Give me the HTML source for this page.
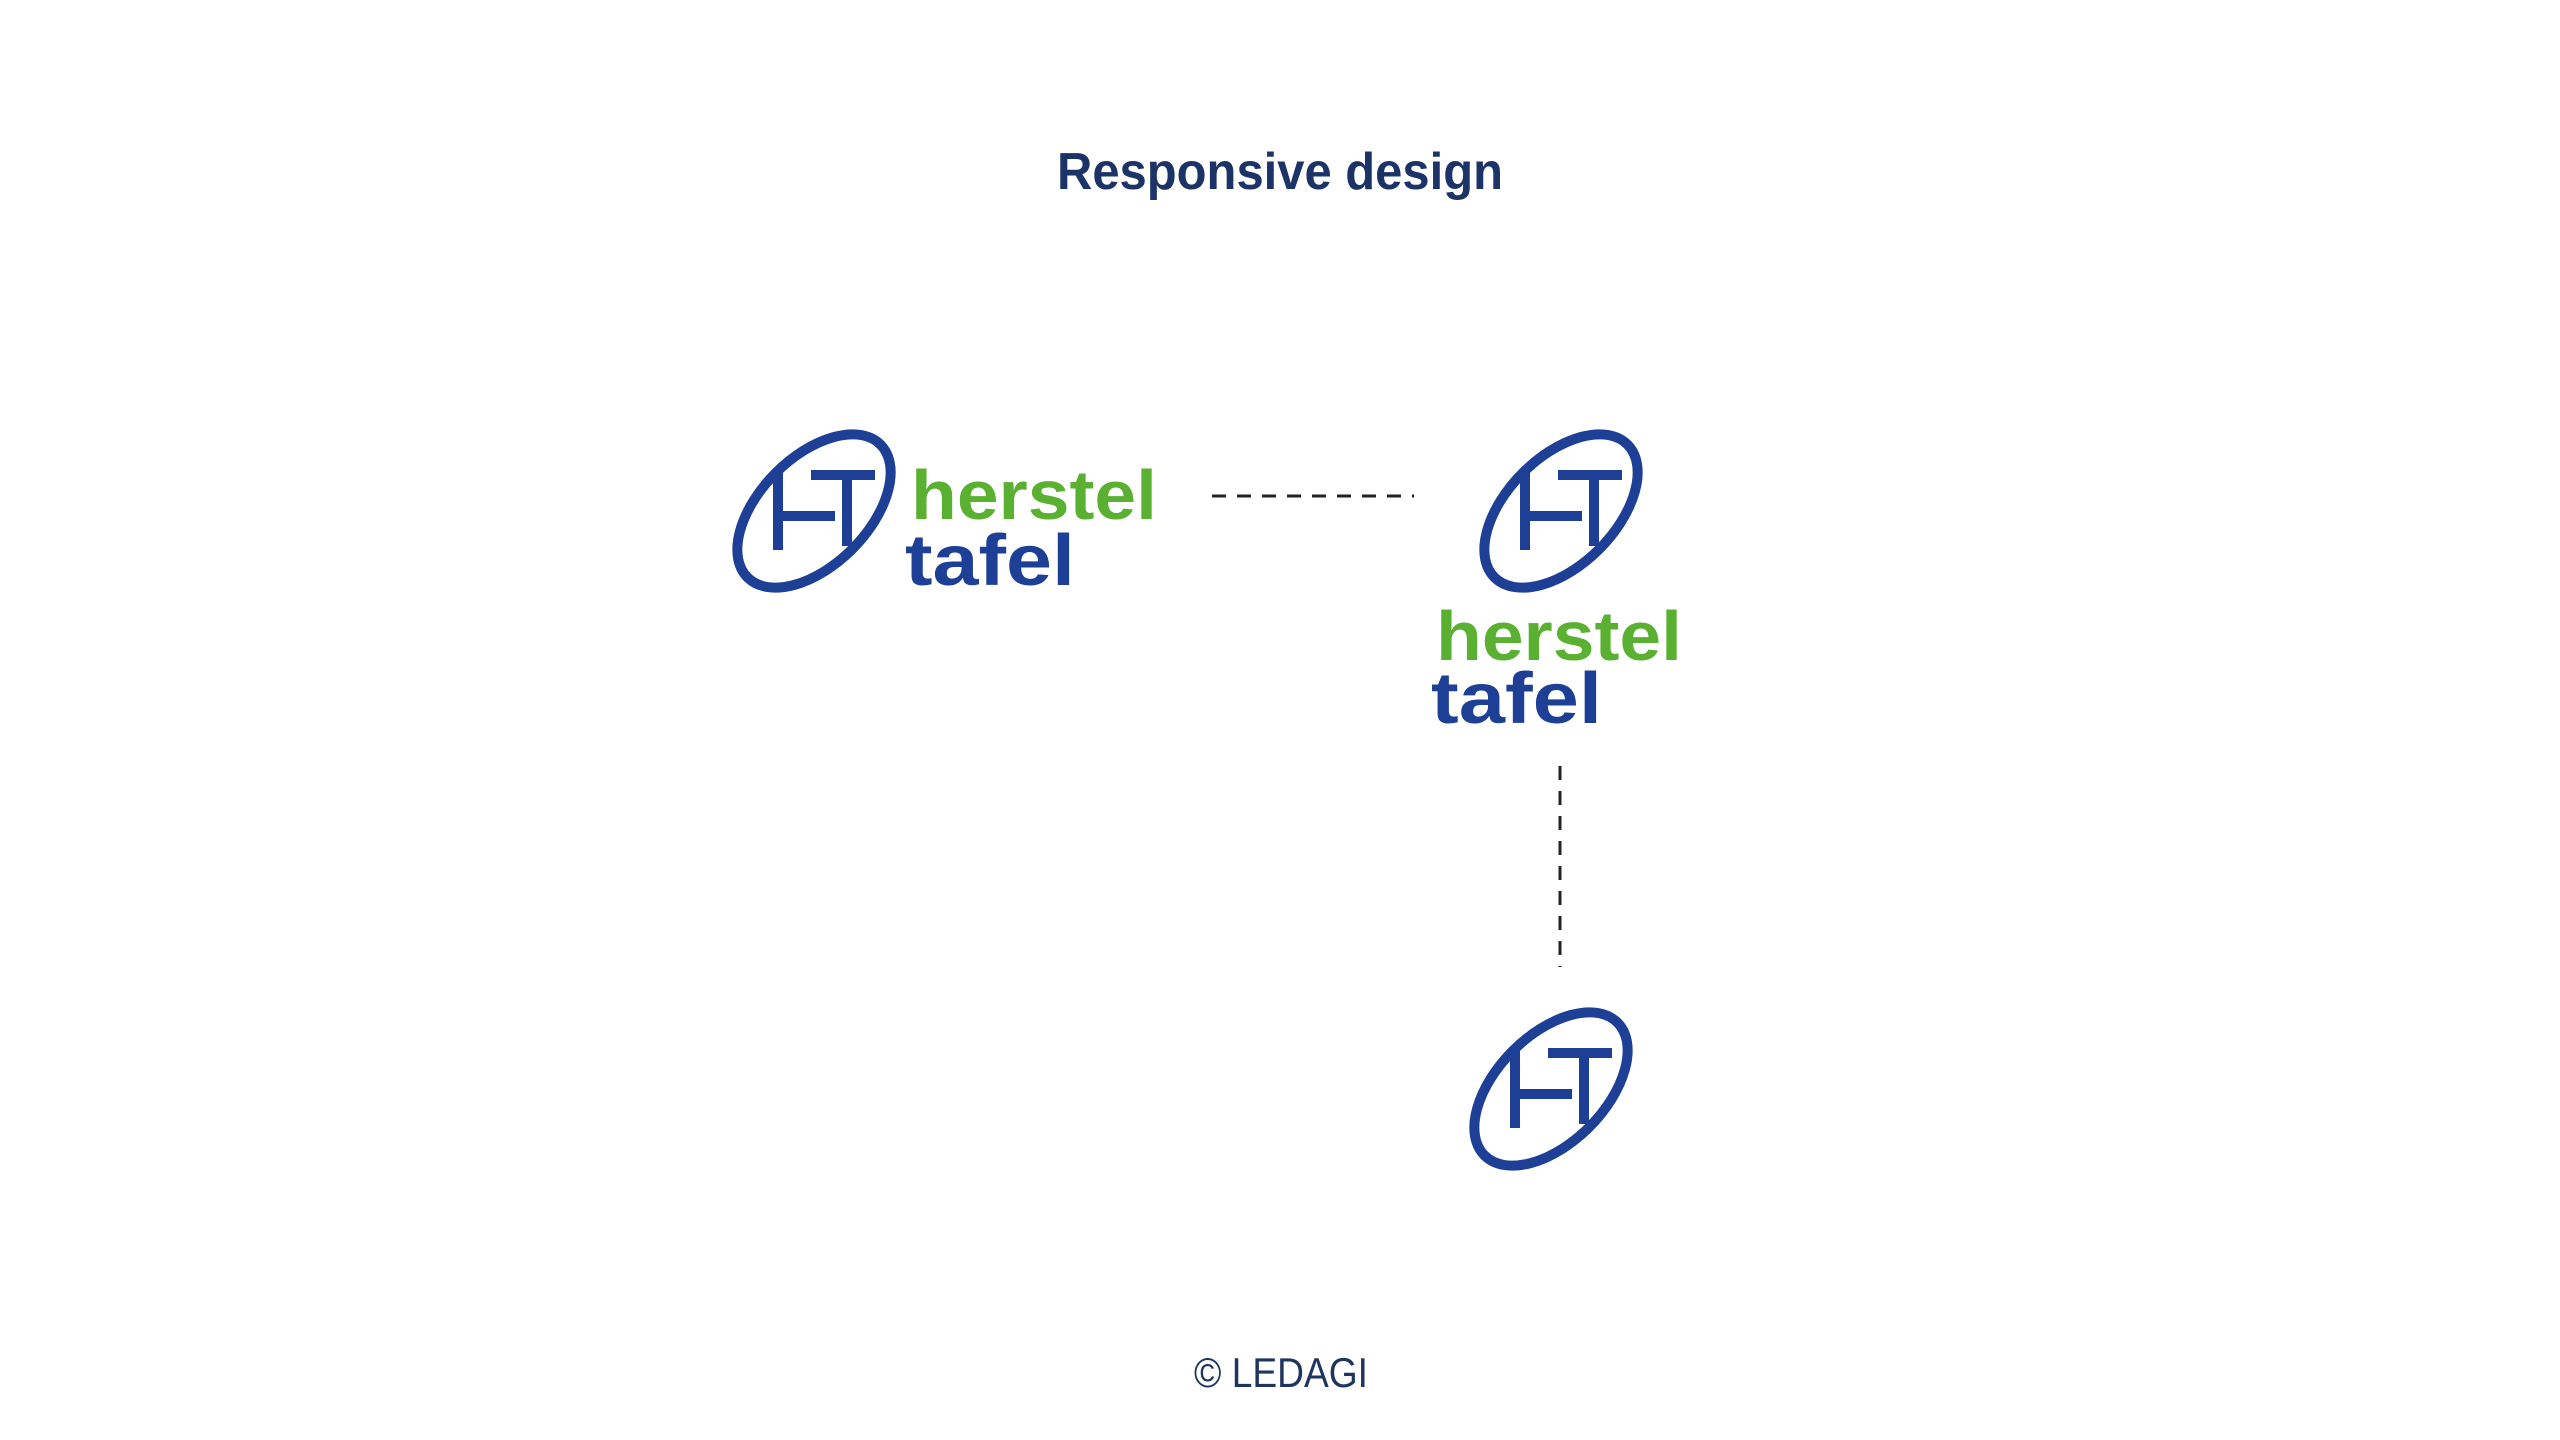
<!DOCTYPE html>
<html><head><meta charset="utf-8"><style>
html,body{margin:0;padding:0;background:#fff;}
svg{display:block;}
</style></head><body>
<svg width="2560" height="1440" viewBox="0 0 2560 1440" xmlns="http://www.w3.org/2000/svg">
<defs>
<g id="logo">
<ellipse cx="0" cy="0" rx="94" ry="54" transform="rotate(-45)" fill="none" stroke="#1e3f96" stroke-width="10"/>
<rect x="-41" y="-39" width="10" height="78" fill="#1e3f96"/>
<rect x="-41" y="0" width="62" height="10" fill="#1e3f96"/>
<rect x="-3" y="-41" width="64" height="10" fill="#1e3f96"/>
<rect x="28" y="-41" width="10" height="76" fill="#1e3f96"/>
</g>
</defs>
<text x="1280" y="189" text-anchor="middle" font-family="Liberation Sans, sans-serif" font-weight="bold" font-size="52" fill="#1b3366" textLength="446" lengthAdjust="spacingAndGlyphs">Responsive design</text>

<use href="#logo" x="814" y="511"/>
<text x="911" y="519" font-family="Liberation Sans, sans-serif" font-weight="bold" font-size="70" fill="#5ab031" textLength="246" lengthAdjust="spacingAndGlyphs">herstel</text>
<text x="905" y="585" font-family="Liberation Sans, sans-serif" font-weight="bold" font-size="72" fill="#1e3f96" textLength="170" lengthAdjust="spacingAndGlyphs">tafel</text>

<line x1="1212" y1="496" x2="1414" y2="496" stroke="#222" stroke-width="3" stroke-dasharray="14 11"/>

<use href="#logo" x="1561" y="511"/>
<text x="1436" y="660" font-family="Liberation Sans, sans-serif" font-weight="bold" font-size="70" fill="#5ab031" textLength="246" lengthAdjust="spacingAndGlyphs">herstel</text>
<text x="1431" y="723" font-family="Liberation Sans, sans-serif" font-weight="bold" font-size="72" fill="#1e3f96" textLength="171" lengthAdjust="spacingAndGlyphs">tafel</text>

<line x1="1560" y1="766" x2="1560" y2="967" stroke="#222" stroke-width="3" stroke-dasharray="14 11"/>

<use href="#logo" x="1551" y="1089"/>

<text x="1281" y="1387" text-anchor="middle" font-family="Liberation Sans, sans-serif" font-size="42" fill="#1e3560" textLength="174" lengthAdjust="spacingAndGlyphs">© LEDAGI</text>
</svg>
</body></html>
